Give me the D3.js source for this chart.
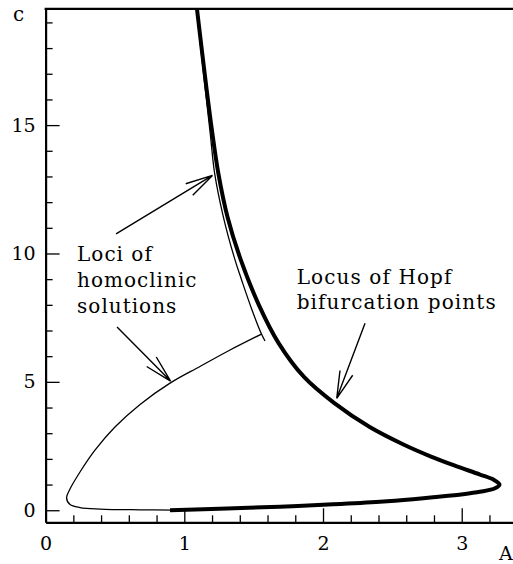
<!DOCTYPE html>
<html>
<head>
<meta charset="utf-8">
<script src="https://cdn.jsdelivr.net/npm/d3@7"></script>
<style>
  body { margin: 0; background: #fff; }
  svg text { font-family: "DejaVu Serif", serif; fill: #000; }
</style>
</head>
<body>
<div id="chart"></div>
<script>
// Hopf bifurcation locus (thick), from the top down round the nose and back to c = 0
const hopfA = [1.0836, 1.1615, 1.2019, 1.2451, 1.3115, 1.4073, 1.5371, 1.6799, 1.8630, 2.0793, 2.3367, 2.5797, 2.7787, 2.9589, 3.1319, 3.2329, 3.2725, 3.2401, 3.1319, 3.0094, 2.7931, 2.6489, 2.4110, 2.0721, 1.6899, 1.3078, 0.8969];
const hopfC = [19.87, 16.36, 14.69, 13.13, 11.42, 9.75, 8.00, 6.51, 5.19, 4.18, 3.24, 2.56, 2.09, 1.72, 1.39, 1.18, 1.00, 0.853, 0.717, 0.623, 0.506, 0.432, 0.331, 0.230, 0.140, 0.066, 0.0];

// homoclinic loci (thin): upper branch hugging the Hopf curve
const homUpA = [1.0808, 1.1521, 1.1867, 1.2185, 1.2819, 1.3655, 1.4131, 1.4881, 1.5566, 1.5818];
const homUpC = [19.87, 16.36, 14.69, 13.13, 11.42, 9.75, 8.97, 7.80, 6.86, 6.59];

// lower branch looping back down to c = 0
const homLoA = [1.5566, 1.330, 1.113, 0.897, 0.681, 0.500, 0.356, 0.248, 0.176, 0.151, 0.176, 0.248, 0.392, 0.681, 0.933];
const homLoC = [6.86, 6.24, 5.60, 4.95, 4.12, 3.24, 2.34, 1.49, 0.83, 0.48, 0.22, 0.105, 0.047, 0.016, 0.004];

const xTicks = [0, 1, 2, 3];
const yTicks = [0, 5, 10, 15];

// annotation arrows: [tailA, tailC, tipA, tipC]
const arrows = [
  [0.508, 10.76, 1.203, 13.04],
  [0.515, 7.14, 0.901, 5.03],
  [2.303, 7.28, 2.099, 4.36]
];
const homLabel = ["Loci of", "homoclinic", "solutions"];
const hopfLabel = ["Locus of Hopf", "bifurcation points"];

const width = 513, height = 564;
const x = d3.scaleLinear().domain([0, 3.4]).range([45.6, 517.2]);
const y = d3.scaleLinear().domain([-0.47, 19.53]).range([522.3, 8.8]);

const svg = d3.select("#chart").append("svg")
  .attr("width", width).attr("height", height);

svg.append("clipPath").attr("id", "plot")
  .append("rect")
  .attr("x", x(0)).attr("y", y(19.53))
  .attr("width", width - x(0)).attr("height", y(-0.47) - y(19.53));

const zip = (as, cs) => as.map((a, i) => [a, cs[i]]);
const line = d3.line()
  .x(d => x(d[0])).y(d => y(d[1]))
  .curve(d3.curveCatmullRom.alpha(0.5));

const curves = svg.append("g").attr("clip-path", "url(#plot)");

curves.append("path")
  .attr("d", line(zip(homUpA, homUpC)))
  .attr("fill", "none").attr("stroke", "#000").attr("stroke-width", 1.3);

curves.append("path")
  .attr("d", line(zip(homLoA, homLoC)))
  .attr("fill", "none").attr("stroke", "#000").attr("stroke-width", 1.3);

curves.append("path")
  .attr("d", line(zip(hopfA, hopfC)))
  .attr("fill", "none").attr("stroke", "#000").attr("stroke-width", 4)
  .attr("stroke-linejoin", "round").attr("stroke-linecap", "butt");

///
/// axes, ticks point inward
///
const minorX = d3.range(0, 3.3, 0.2).filter(v => Math.abs(v - Math.round(v)) > 1e-6);
const minorY = d3.range(0, 20, 1).filter(v => v % 5 != 0);

const gx = svg.append("g").attr("transform", `translate(0,${y(-0.47)})`);
gx.call(d3.axisBottom(x).tickValues(minorX).tickSize(-7).tickSizeOuter(0).tickFormat(""));
gx.call(g => g.select(".domain").remove());
const gx2 = svg.append("g").attr("transform", `translate(0,${y(-0.47)})`);
gx2.call(d3.axisBottom(x).tickValues(xTicks).tickSize(-14).tickSizeOuter(0).tickPadding(14).tickFormat(d3.format("d")));

const gy = svg.append("g").attr("transform", `translate(${x(0)},0)`);
gy.call(d3.axisLeft(y).tickValues(minorY).tickSize(-7).tickSizeOuter(0).tickFormat(""));
gy.call(g => g.select(".domain").remove());
const gy2 = svg.append("g").attr("transform", `translate(${x(0)},0)`);
gy2.call(d3.axisLeft(y).tickValues(yTicks).tickSize(-14).tickSizeOuter(0).tickPadding(10).tickFormat(d3.format("d")));

svg.selectAll(".tick line").attr("stroke", "#000").attr("stroke-width", 1.3);
svg.selectAll(".domain").attr("stroke", "#000").attr("stroke-width", 2.2);
svg.selectAll(".tick text")
  .attr("font-family", "DejaVu Serif").attr("font-size", 19).attr("fill", "#000");

// top frame line, no right border
svg.append("line")
  .attr("x1", x(0) - 1).attr("x2", width)
  .attr("y1", y(19.53)).attr("y2", y(19.53))
  .attr("stroke", "#000").attr("stroke-width", 2.2);

svg.append("text").attr("x", 13).attr("y", 21)
  .attr("font-size", 20).text("c");
svg.append("text").attr("x", 499).attr("y", 560)
  .attr("font-size", 19).text("A");

///
/// arrows with open heads
///
const headLen = 28, headAng = 14 * Math.PI / 180;
arrows.forEach(a => {
  const x0 = x(a[0]), y0 = y(a[1]), x1 = x(a[2]), y1 = y(a[3]);
  const ang = Math.atan2(y0 - y1, x0 - x1);
  let p = d3.path();
  p.moveTo(x0, y0);
  p.lineTo(x1, y1);
  p.moveTo(x1 + headLen * Math.cos(ang - headAng), y1 + headLen * Math.sin(ang - headAng));
  p.lineTo(x1, y1);
  p.lineTo(x1 + headLen * Math.cos(ang + headAng), y1 + headLen * Math.sin(ang + headAng));
  svg.append("path").attr("d", p.toString())
    .attr("fill", "none").attr("stroke", "#000").attr("stroke-width", 1.4);
});

///
/// labels
///
const t1 = svg.append("text").attr("font-size", 20).attr("letter-spacing", 1);
homLabel.forEach((s, i) => {
  t1.append("tspan").attr("x", x(0.227)).attr("y", y(9.72) + i * 26).text(s);
});
const t2 = svg.append("text").attr("font-size", 20).attr("letter-spacing", 1.1);
hopfLabel.forEach((s, i) => {
  t2.append("tspan").attr("x", x(1.81)).attr("y", y(8.80) + i * 25).text(s);
});
</script>
</body>
</html>
